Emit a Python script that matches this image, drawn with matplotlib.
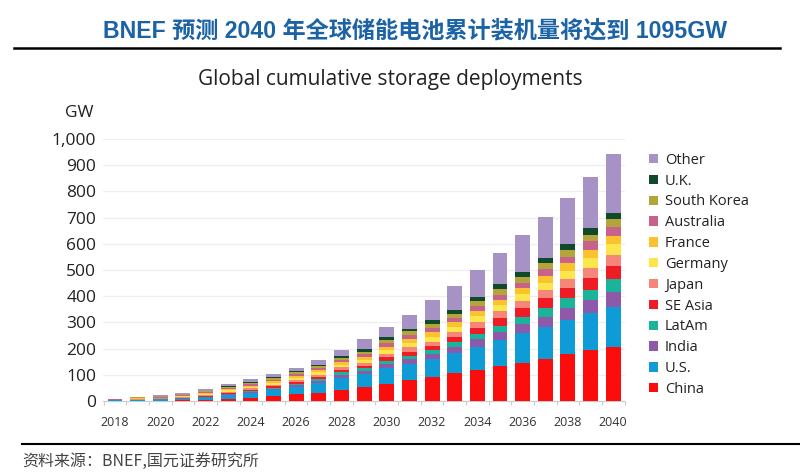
import matplotlib
matplotlib.use("Agg")
import matplotlib.pyplot as plt
from matplotlib.patches import Patch
import numpy as np

years = list(range(2018, 2041))
year_labels = [str(y) if y % 2 == 0 else "" for y in years]

series_names = ["China", "U.S.", "India", "LatAm", "SE Asia", "Japan", "Germany",
                "France", "Australia", "South Korea", "U.K.", "Other"]
colors = ["#fb0d0d", "#0e9bd6", "#8c5aa8", "#19b49a", "#ee1c25", "#f6857a", "#fde64b",
          "#f9c22e", "#c8628b", "#b3a53c", "#0f4a2b", "#a792c6"]

china     = [0.5, 1, 1, 2, 3, 6, 10, 18, 25, 32, 42, 55, 65, 80, 93, 106, 118, 134, 146, 159, 179, 195, 207]
us        = [1.5, 3, 5, 7, 11, 16, 20, 23, 28, 36, 45, 48, 60, 60, 66, 76, 89, 99, 112, 122, 130, 140, 152]
india     = [0.3, 0.5, 1, 1, 2, 4, 5, 6, 8, 9, 13, 13, 15, 19, 20, 25, 28, 29, 36, 41, 45, 51, 57]
latam     = [0.2, 0.5, 0.5, 1, 1, 2, 3, 4, 5, 7, 9, 9, 13, 14, 15, 17, 20, 25, 28, 32, 38, 38, 48]
se_asia   = [0.3, 0.5, 0.5, 1, 2, 3, 4, 5, 6, 8, 10, 10, 14, 15, 17, 19, 24, 28, 34, 41, 41, 45, 50]
japan     = [1, 2, 2, 3, 4, 5, 6, 7, 8, 9, 10, 11, 13, 17, 15, 19, 23, 28, 27, 29, 33, 40, 42]
germany   = [1, 2, 2, 3, 4, 5, 6, 6, 7, 8, 9, 10, 15, 15, 19, 21, 23, 23, 24, 28, 31, 36, 42]
france    = [0.5, 1, 1, 2, 3, 4, 5, 6, 8, 9, 10, 13, 13, 16, 17, 19, 19, 19, 23, 27, 29, 32, 33]
australia = [0.5, 1, 2, 2, 3, 4, 5, 6, 7, 8, 9, 10, 13, 15, 15, 15, 18, 19, 21, 24, 25, 32, 32]
s_korea   = [1, 2.5, 3, 4, 5, 5, 6, 7, 8, 8, 9, 9, 13, 15, 17, 17, 18, 22, 23, 23, 25, 25, 32]
uk        = [0.2, 0.5, 1, 1, 2, 2, 3, 4, 4, 5, 6, 9, 10, 10, 15, 15, 18, 19, 19, 21, 23, 25, 23]
other     = [1, 2.5, 4, 5, 6, 8, 10, 11, 13, 17, 23, 39, 37, 51, 75, 89, 101, 121, 139, 154, 174, 197, 224]

data = [china, us, india, latam, se_asia, japan, germany, france, australia, s_korea, uk, other]

yticks = [0, 100, 200, 300, 400, 500, 600, 700, 800, 900, 1000]
ytick_labels = ["0", "100", "200", "300", "400", "500", "600", "700", "800", "900", "1,000"]

header = "BNEF 预测 2040 年全球储能电池累计装机量将达到 1095GW"
chart_title = "Global cumulative storage deployments"
source = "资料来源：BNEF,国元证券研究所"

plt.rcParams['font.family'] = ['Open Sans', 'DejaVu Sans']

fig = plt.figure(figsize=(8, 4.72), dpi=100)
fig.patch.set_facecolor("white")

ax = fig.add_axes([0.129, 0.1504, 0.652, 0.5551])
x = np.arange(len(years))
bottom = np.zeros(len(years))
handles = []
for name, vals, c in zip(series_names, data, colors):
    v = np.array(vals, dtype=float)
    ax.bar(x, v, bottom=bottom, width=0.66, color=c, edgecolor="none", zorder=3)
    bottom += v
    handles.append(Patch(facecolor=c, edgecolor="none", label=name))

ax.set_xlim(-0.52, len(years) - 0.49)
ax.set_ylim(0, 1000)
ax.set_yticks(yticks)
ax.set_yticklabels(ytick_labels, fontsize=12.5, color="#222222")
ax.set_xticks(x)
ax.set_xticklabels(year_labels, fontsize=9, color="#333333")
ax.set_xticks(np.arange(-0.5, len(years), 1.0), minor=True)
ax.tick_params(axis="x", which="major", length=0, pad=11)
ax.tick_params(axis="x", which="minor", length=3, color="#cccccc", width=0.8)
ax.tick_params(axis="y", length=0, pad=5)
ax.grid(axis="y", color="#eeeeee", linewidth=0.9, zorder=0)
for s in ["top", "right", "left"]:
    ax.spines[s].set_visible(False)
ax.spines["bottom"].set_color("#cccccc")
ax.spines["bottom"].set_linewidth(0.8)

leg = ax.legend(handles=handles[::-1], loc="upper left", bbox_to_anchor=(1.035, 0.97),
                frameon=False, fontsize=10.5, handlelength=0.6, handleheight=0.6,
                handletextpad=0.5, labelspacing=0.40, borderaxespad=0)
for t in leg.get_texts():
    t.set_color("#222222")

fig.text(93 / 800, 1 - 113 / 472, "GW", ha="right", va="center", fontsize=12.5, color="#222222")
fig.text(390 / 800, 1 - 79 / 472, chart_title, ha="center", va="center", fontsize=15, color="#222222")
fig.text(415 / 800, 1 - 31 / 472, header, ha="center", va="center", fontsize=16.7, fontweight="bold",
         color="#1c63a6", family=["Liberation Sans", "Noto Sans CJK SC"])
fig.add_artist(plt.Line2D([14 / 800, 780 / 800], [1 - 48 / 472, 1 - 48 / 472], color="black", linewidth=1.8))
fig.add_artist(plt.Line2D([22 / 800, 800 / 800], [1 - 444 / 472, 1 - 444 / 472], color="black", linewidth=1.5))
fig.text(22 / 800, 1 - 461 / 472, source, ha="left", va="center", fontsize=11.5, color="#444444",
         family=["Noto Sans CJK SC", "DejaVu Sans"])

fig.savefig("out.png", dpi=100, facecolor="white")
